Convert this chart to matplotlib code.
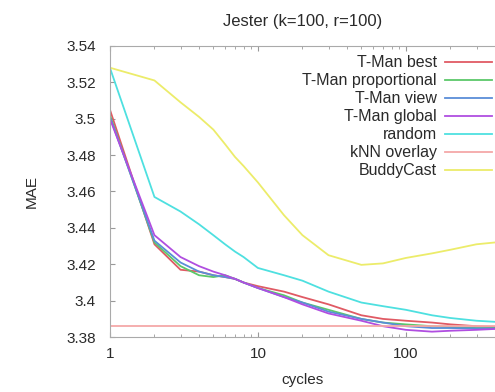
import matplotlib
matplotlib.use("Agg")
import matplotlib.pyplot as plt
import numpy as np

plt.rcParams['font.family'] = ['Liberation Sans', 'DejaVu Sans']

cycles = [1, 2, 3, 4, 5, 6, 7, 8, 10, 15, 20, 30, 50, 70, 100, 150, 200, 300, 400]

tman_best = [3.505, 3.431, 3.417, 3.416, 3.414, 3.413, 3.412, 3.410, 3.408, 3.405, 3.402, 3.398,
             3.392, 3.390, 3.389, 3.388, 3.387, 3.386, 3.3855]
tman_prop = [3.502, 3.432, 3.419, 3.414, 3.413, 3.414, 3.412, 3.410, 3.407, 3.403, 3.399, 3.395,
             3.390, 3.388, 3.387, 3.386, 3.3855, 3.385, 3.385]
tman_view = [3.501, 3.433, 3.421, 3.416, 3.414, 3.413, 3.412, 3.410, 3.407, 3.402, 3.399, 3.394,
             3.390, 3.388, 3.386, 3.385, 3.385, 3.3848, 3.3848]
tman_global = [3.500, 3.436, 3.424, 3.419, 3.416, 3.414, 3.412, 3.410, 3.407, 3.402, 3.398, 3.393,
               3.389, 3.386, 3.384, 3.383, 3.3835, 3.384, 3.3845]
random_ = [3.528, 3.457, 3.449, 3.442, 3.436, 3.431, 3.427, 3.424, 3.418, 3.414, 3.411, 3.405,
           3.399, 3.397, 3.395, 3.392, 3.3905, 3.389, 3.3884]
knn_overlay = [3.386] * len(cycles)
buddycast = [3.528, 3.521, 3.509, 3.501, 3.494, 3.486, 3.479, 3.474, 3.465, 3.447, 3.436, 3.425,
             3.4197, 3.4205, 3.4235, 3.426, 3.428, 3.431, 3.432]

labels = ["T-Man best", "T-Man proportional", "T-Man view", "T-Man global",
          "random", "kNN overlay", "BuddyCast"]
colors = ["#e05a64", "#5cc86a", "#5a8ed8", "#b04ee0", "#4ee0e0", "#f4a8a8", "#ecec6a"]
series = [tman_best, tman_prop, tman_view, tman_global, random_, knn_overlay, buddycast]

yticks = [3.38, 3.4, 3.42, 3.44, 3.46, 3.48, 3.5, 3.52, 3.54]
ytick_labels = ["3.38", "3.4", "3.42", "3.44", "3.46", "3.48", "3.5", "3.52", "3.54"]
xticks = [1, 10, 100]
xtick_labels = ["1", "10", "100"]

txt = "#2a2a2a"

fig = plt.figure(figsize=(4.95, 3.92), dpi=100)
ax = fig.add_axes([0.222, 0.140, 0.778, 0.743])

for vals, lab, col in zip(series, labels, colors):
    ax.plot(cycles, vals, color=col, lw=1.3, label=lab)

ax.set_xscale("log")
ax.set_xlim(1, 400)
ax.set_ylim(3.38, 3.54)
ax.set_xticks(xticks)
ax.set_xticklabels(xtick_labels)
ax.set_yticks(yticks)
ax.set_yticklabels(ytick_labels)
ax.tick_params(axis="both", which="both", direction="in", top=True, labelsize=11,
               colors="#999999", labelcolor=txt)
ax.tick_params(axis="x", pad=7)
ax.tick_params(axis="y", pad=10)
for s in ["left", "top", "bottom"]:
    ax.spines[s].set_color("#aaaaaa")
ax.spines["right"].set_visible(False)

ax.set_title("Jester (k=100, r=100)", fontsize=12, color=txt, pad=14)
ax.set_xlabel("cycles", fontsize=11, color=txt, labelpad=9)
ax.set_ylabel("MAE", fontsize=11, color=txt, labelpad=20)

leg = ax.legend(loc="upper right", frameon=False, markerfirst=False, fontsize=11.5,
                labelspacing=0.19, handlelength=2.95, handletextpad=0.5,
                borderaxespad=0.0, borderpad=0.2, bbox_to_anchor=(1.0, 0.979))
for t in leg.get_texts():
    t.set_ha("right")
    t.set_color(txt)
leg._legend_box.align = "right"

fig.savefig("out.png", dpi=100)
